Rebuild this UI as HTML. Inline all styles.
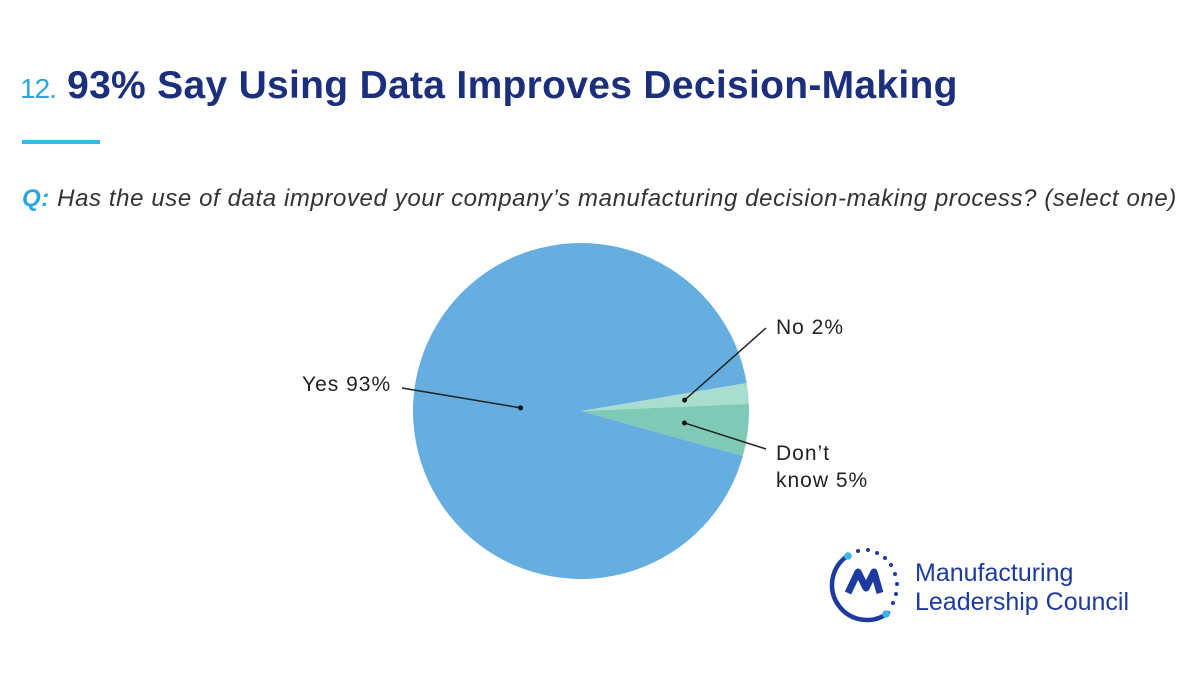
<!DOCTYPE html>
<html><head><meta charset="utf-8"><style>
body{margin:0;background:#fff;width:1200px;height:675px;overflow:hidden;font-family:"Liberation Sans",sans-serif;position:relative}
.t{position:absolute;left:20px;top:64px;font-size:39px;font-weight:bold;color:#1b2f7c;white-space:nowrap;letter-spacing:0.3px}
.t span{color:#2aa7df;font-size:28px;font-weight:normal;letter-spacing:-1px}
.bar{position:absolute;left:22px;top:140px;width:78px;height:4px;background:#3bb5ea}
.q{position:absolute;left:22px;top:185px;font-size:24px;font-style:italic;color:#333;white-space:nowrap;letter-spacing:0.6px}
.q b{color:#2aa7df}
svg{position:absolute;left:0;top:0}
</style></head><body>
<div class="t"><span>12.</span> 93% Say Using Data Improves Decision-Making</div>
<div class="bar"></div>
<div class="q"><b>Q:</b> Has the use of data improved your company’s manufacturing decision-making process? (select one)</div>
<svg width="1200" height="675" id="chart">
<g id="slices"></g>
<g id="labels" font-family="Liberation Sans, sans-serif" font-size="21" fill="#222" letter-spacing="1"></g>
<g>
<path d="M888,613 A34,34 0 1 1 846,557" fill="none" stroke="#1d3a9e" stroke-width="4.5" stroke-linecap="round"/>
<circle cx="848" cy="556" r="3.8" fill="#3bb5ea"/><circle cx="886" cy="614" r="3.8" fill="#3bb5ea"/>
<g fill="#1d3a9e"><circle cx="858" cy="551" r="2"/><circle cx="868" cy="550" r="2"/><circle cx="877" cy="553" r="2"/><circle cx="885" cy="558" r="2"/><circle cx="891" cy="565" r="2"/><circle cx="895" cy="574" r="2"/><circle cx="897" cy="584" r="2"/><circle cx="896" cy="594" r="2"/><circle cx="893" cy="603" r="2"/></g>
<path d="M848,593 L858,572 L866,588 L874,572 L880,593" fill="none" stroke="#1d3a9e" stroke-width="7" stroke-linejoin="round"/>
<text x="915" y="581" font-family="Liberation Sans, sans-serif" font-size="25" fill="#1d3a9e">Manufacturing</text>
<text x="915" y="610" font-family="Liberation Sans, sans-serif" font-size="25" fill="#1d3a9e">Leadership Council</text>
</g>
</svg>
<script>
const categories=["No","Don't know","Yes"];
const values=[2,5,93];
const colors=["#a9ddd0","#7ecab6","#66ade0"];
const cx=581,cy=411,r=168;
const startDeg=9.6;
const ns="http://www.w3.org/2000/svg";
const total=values.reduce((a,b)=>a+b,0);
function pt(deg,rad){const a=deg*Math.PI/180;return [cx+rad*Math.cos(a),cy+rad*Math.sin(a)];}
let ang=-startDeg;const mids=[];
const g=document.getElementById('slices');
values.forEach((v,i)=>{
 const sweep=v/total*360;const a0=ang,a1=ang+sweep;
 const p0=pt(a0,r),p1=pt(a1,r);
 const p=document.createElementNS(ns,'path');
 p.setAttribute('d',`M${cx},${cy} L${p0[0]},${p0[1]} A${r},${r} 0 ${sweep>180?1:0} 1 ${p1[0]},${p1[1]} Z`);
 p.setAttribute('fill',colors[i]);
 
 
 g.appendChild(p);mids.push((a0+a1)/2);ang=a1;
});
const L=document.getElementById('labels');
function line(x1,y1,x2,y2){const l=document.createElementNS(ns,'line');l.setAttribute('x1',x1);l.setAttribute('y1',y1);l.setAttribute('x2',x2);l.setAttribute('y2',y2);l.setAttribute('stroke','#222');l.setAttribute('stroke-width','1.5');L.appendChild(l);
 const c=document.createElementNS(ns,'circle');c.setAttribute('cx',x1);c.setAttribute('cy',y1);c.setAttribute('r','2.5');c.setAttribute('fill','#111');L.appendChild(c);}
function text(x,y,s,name){const t=document.createElementNS(ns,'text');t.setAttribute('x',x);t.setAttribute('y',y);t.textContent=s;
 
 
 L.appendChild(t);}
let p=pt(mids[0],r*0.62);line(p[0],p[1],766,328);text(776,334,categories[0]+" "+values[0]+"%",'label-no');
p=pt(mids[1],r*0.62);line(p[0],p[1],766,449);text(776,460,"Don’t",'label-dont-know');text(776,487,"know "+values[1]+"%",'label-dont-know-value');
p=pt(mids[2],r*0.36);line(p[0],p[1],402,388);text(302,391,categories[2]+" "+values[2]+"%",'label-yes');
</script>
</body></html>
